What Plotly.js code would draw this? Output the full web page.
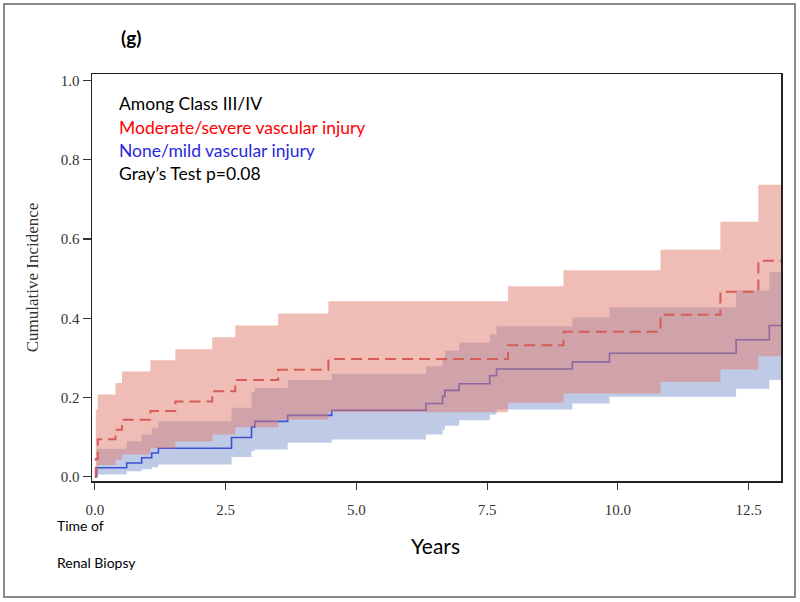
<!DOCTYPE html>
<html>
<head>
<meta charset="utf-8">
<script src="https://cdn.plot.ly/plotly-3.0.1.min.js"></script>
<style>
html, body { margin: 0; padding: 0; background: #fff; }
#chart { width: 800px; height: 602px; }
</style>
</head>
<body>
<div id="chart"></div>
<script>
// Moderate/severe vascular injury (red, dashed) – cumulative incidence and 95% band
const redTimes = [0, 0.02, 0.057, 0.395, 0.52, 1.063, 1.54, 2.246, 2.685, 3.506, 4.466, 7.90, 8.96, 10.815, 11.96, 12.685, 13.12];
const redEstimate = [0, 0.045, 0.095, 0.119, 0.144, 0.166, 0.19, 0.216, 0.244, 0.27, 0.297, 0.332, 0.366, 0.409, 0.467, 0.545, 0.545];
const redUpper = [0, 0.169, 0.208, 0.237, 0.266, 0.294, 0.322, 0.352, 0.382, 0.412, 0.443, 0.481, 0.521, 0.573, 0.644, 0.737, 0.737];
const redLower = [0, 0.008, 0.03, 0.043, 0.056, 0.072, 0.089, 0.107, 0.125, 0.144, 0.163, 0.187, 0.21, 0.239, 0.271, 0.304, 0.304];

// None/mild vascular injury (blue, solid) – cumulative incidence and 95% band
const blueTimes = [0, 0.038, 0.61, 0.897, 1.088, 1.216, 2.614, 2.996, 3.06, 3.687, 4.53, 6.33, 6.649, 6.693, 6.966, 7.55, 7.68, 9.13, 9.84, 12.26, 12.895, 13.12];
const blueEstimate = [0, 0.023, 0.035, 0.048, 0.060, 0.072, 0.099, 0.126, 0.140, 0.155, 0.168, 0.185, 0.203, 0.218, 0.235, 0.255, 0.272, 0.29, 0.312, 0.346, 0.382, 0.382];
const blueUpper = [0, 0.071, 0.090, 0.107, 0.124, 0.140, 0.174, 0.214, 0.224, 0.244, 0.26, 0.279, 0.30, 0.319, 0.339, 0.359, 0.38, 0.402, 0.428, 0.47, 0.517, 0.517];
const blueLower = [0, 0.006, 0.014, 0.019, 0.024, 0.031, 0.05, 0.065, 0.069, 0.086, 0.094, 0.107, 0.119, 0.129, 0.143, 0.157, 0.17, 0.185, 0.202, 0.222, 0.244, 0.244];

const xTickVals = [0, 2.5, 5, 7.5, 10, 12.5];
const xTickText = ['0.0', '2.5', '5.0', '7.5', '10.0', '12.5'];
const yTickVals = [0, 0.2, 0.4, 0.6, 0.8, 1.0];
const yTickText = ['0.0', '0.2', '0.4', '0.6', '0.8', '1.0'];

const noLine = {width: 0, color: 'rgba(0,0,0,0)', shape: 'hv'};

const traces = [
  {x: blueTimes, y: blueUpper, mode: 'lines', line: noLine, hoverinfo: 'skip'},
  {x: blueTimes, y: blueLower, mode: 'lines', line: noLine, fill: 'tonexty',
   fillcolor: 'rgba(127,151,205,0.5)', hoverinfo: 'skip'},
  {x: blueTimes, y: blueEstimate, mode: 'lines',
   line: {color: 'rgb(60,80,215)', width: 1.6, shape: 'hv'}, hoverinfo: 'skip'},
  {x: redTimes, y: redUpper, mode: 'lines', line: noLine, hoverinfo: 'skip'},
  {x: redTimes, y: redLower, mode: 'lines', line: noLine, fill: 'tonexty',
   fillcolor: 'rgba(223,123,107,0.5)', hoverinfo: 'skip'},
  {x: redTimes, y: redEstimate, mode: 'lines',
   line: {color: 'rgb(214,92,88)', width: 2, shape: 'hv', dash: '11px,6px'}, hoverinfo: 'skip'}
];

const L = 92, R = 19, T = 74, B = 121;
const W = 800 - L - R, H = 602 - T - B;
const px = v => (v - L) / W;
const py = v => (602 - B - v) / H;

const textFont = 'Lato, "Open Sans", sans-serif';

function note(text, x, y, size, color, xanchor, extra) {
  return Object.assign({
    text: text, x: px(x), y: py(y), xref: 'paper', yref: 'paper',
    xanchor: xanchor, yanchor: 'middle', showarrow: false, borderpad: 0,
    font: {family: textFont, size: size, color: color}
  }, extra || {});
}

const layout = {
  width: 800, height: 602,
  margin: {l: L, r: R, t: T, b: B, pad: 0},
  paper_bgcolor: '#fff', plot_bgcolor: '#fff',
  showlegend: false,
  xaxis: {
    range: [-0.053, 13.118], tickvals: xTickVals, ticktext: xTickText,
    ticks: 'outside', ticklen: 7, tickwidth: 1.2, tickcolor: '#333',
    ticklabelstandoff: 7,
    showline: true, linecolor: '#222', linewidth: 1.5, mirror: true,
    showgrid: false, zeroline: false,
    tickfont: {family: '"Liberation Serif", serif', size: 15, color: '#333'}
  },
  yaxis: {
    range: [-0.0106, 1.0166], tickvals: yTickVals, ticktext: yTickText,
    ticks: 'outside', ticklen: 8, tickwidth: 1.2, tickcolor: '#333',
    showline: true, linecolor: '#222', linewidth: 1.5, mirror: true,
    showgrid: false, zeroline: false,
    tickfont: {family: '"Liberation Serif", serif', size: 15, color: '#333'},
    title: {text: 'Cumulative Incidence', standoff: 18,
            font: {family: '"Liberation Serif", serif', size: 17, color: '#333'}}
  },
  annotations: [
    note('(g)', 131, 38, 19, '#000', 'center', {font: {family: textFont, size: 19, color: '#000', weight: 'bold'}}),
    note('Among Class III/IV', 118, 103, 17.5, '#000', 'left'),
    note('Moderate/severe vascular injury', 118, 127, 17.5, '#ff0000', 'left'),
    note('None/mild vascular injury', 118, 150, 17.5, 'rgb(40,40,220)', 'left'),
    note('Gray\u2019s Test p=0.08', 118, 173, 17.5, '#000', 'left'),
    note('Years', 435, 545, 21, '#000', 'center'),
    note('Time of', 56, 525, 14, '#000', 'left'),
    note('Renal Biopsy', 56, 562, 14, '#000', 'left')
  ],
  shapes: [
    {type: 'rect', xref: 'paper', yref: 'paper', x0: px(4), x1: px(795), y0: py(597), y1: py(4),
     line: {color: '#8a8a8a', width: 2}, fillcolor: 'rgba(0,0,0,0)', layer: 'above'}
  ]
};

Plotly.newPlot('chart', traces, layout, {staticPlot: true, displayModeBar: false});
</script>
</body>
</html>
